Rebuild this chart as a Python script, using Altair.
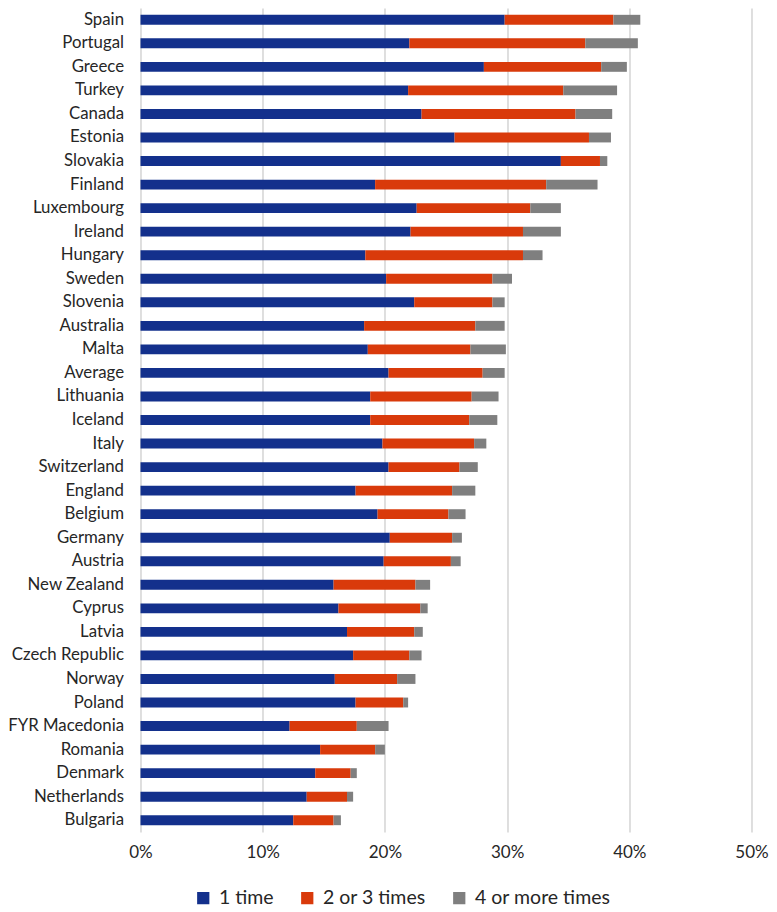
import altair as alt
import pandas as pd

countries = ["Spain", "Portugal", "Greece", "Turkey", "Canada", "Estonia", "Slovakia",
             "Finland", "Luxembourg", "Ireland", "Hungary", "Sweden", "Slovenia",
             "Australia", "Malta", "Average", "Lithuania", "Iceland", "Italy",
             "Switzerland", "England", "Belgium", "Germany", "Austria", "New Zealand",
             "Cyprus", "Latvia", "Czech Republic", "Norway", "Poland", "FYR Macedonia",
             "Romania", "Denmark", "Netherlands", "Bulgaria"]

one_time = [29.8, 22.0, 28.1, 21.9, 23.0, 25.7, 34.4, 19.2, 22.6, 22.1, 18.4, 20.1, 22.4,
            18.3, 18.6, 20.3, 18.8, 18.8, 19.8, 20.3, 17.6, 19.4, 20.4, 19.9, 15.8,
            16.2, 16.9, 17.4, 15.9, 17.6, 12.2, 14.7, 14.3, 13.6, 12.5]
two_three = [8.9, 14.4, 9.6, 12.7, 12.6, 11.0, 3.2, 14.0, 9.3, 9.2, 12.9, 8.7, 6.4,
             9.1, 8.4, 7.7, 8.3, 8.1, 7.5, 5.8, 7.9, 5.8, 5.1, 5.5, 6.7,
             6.7, 5.5, 4.6, 5.1, 3.9, 5.5, 4.5, 2.9, 3.3, 3.3]
four_more = [2.2, 4.3, 2.1, 4.4, 3.0, 1.8, 0.6, 4.2, 2.5, 3.1, 1.6, 1.6, 1.0,
             2.4, 2.9, 1.8, 2.2, 2.3, 1.0, 1.5, 1.9, 1.4, 0.8, 0.8, 1.2,
             0.6, 0.7, 1.0, 1.5, 0.4, 2.6, 0.8, 0.5, 0.5, 0.6]

series = ["1 time", "2 or 3 times", "4 or more times"]
colors = ["#13308c", "#d93a0b", "#7f7f7f"]

rows = []
for i, c in enumerate(countries):
    for j, vals in enumerate([one_time, two_three, four_more]):
        rows.append({"country": c, "series": series[j], "order": j, "value": vals[i] / 100.0})
df = pd.DataFrame(rows)

FONT = "Lato"

chart = alt.Chart(df).mark_bar().encode(
    y=alt.Y("country:N", sort=countries,
            scale=alt.Scale(paddingInner=0.58, paddingOuter=0.29),
            axis=alt.Axis(title=None, ticks=False, domain=False, labelFontSize=16.8,
                          labelFont=FONT, labelColor="#262626", labelPadding=17,
                          grid=False)),
    x=alt.X("value:Q", stack="zero",
            scale=alt.Scale(domain=[0, 0.5], nice=False),
            axis=alt.Axis(title=None, format=".0%", values=[0, 0.1, 0.2, 0.3, 0.4, 0.5],
                          ticks=False, domain=False, grid=True, gridColor="#c9c9c9",
                          gridWidth=1.2, labelFontSize=17, labelFont=FONT,
                          labelFlush=False, labelBound=False,
                          labelColor="#262626", labelPadding=12)),
    color=alt.Color("series:N", sort=series,
                    scale=alt.Scale(domain=series, range=colors),
                    legend=alt.Legend(title=None, orient="none", direction="horizontal",
                                      legendX=53, legendY=880, symbolType="square",
                                      symbolSize=150, symbolStrokeWidth=0,
                                      labelFontSize=19.5, labelFont=FONT,
                                      labelColor="#262626", labelOffset=6,
                                      columnPadding=23)),
    order=alt.Order("order:Q", sort="ascending"),
).properties(
    width=611,
    height=824,
    autosize=alt.AutoSizeParams(type="none"),
    padding={"left": 132.5, "top": 0, "right": 17, "bottom": 78},
).configure_view(stroke=None)

chart.save("out.html", embed_options={"renderer": "svg", "actions": False})
